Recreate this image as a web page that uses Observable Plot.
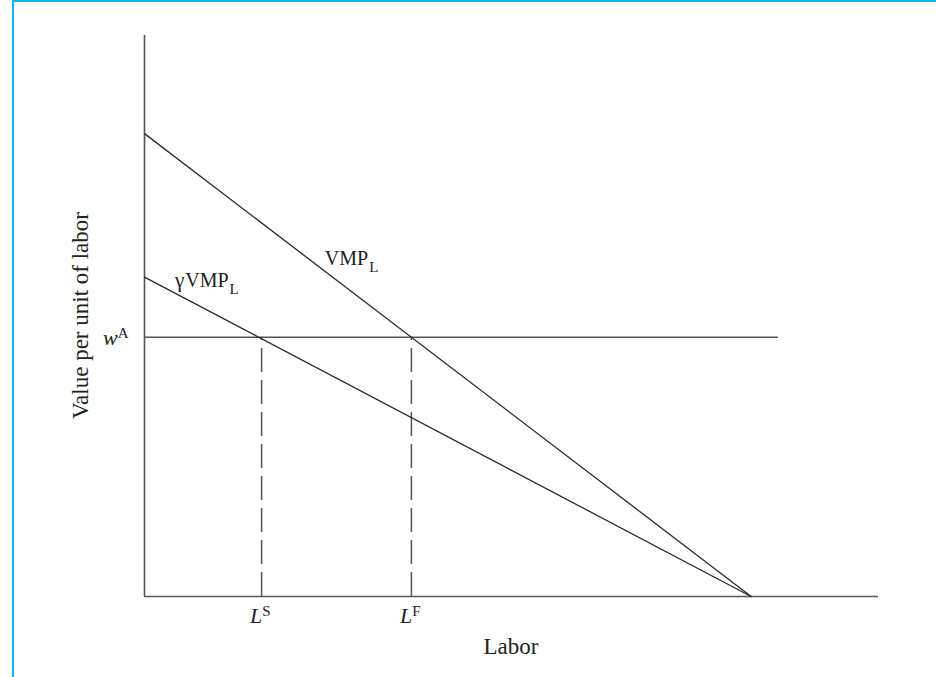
<!DOCTYPE html>
<html>
<head>
<meta charset="utf-8">
<script src="https://cdn.jsdelivr.net/npm/d3@7"></script>
<script src="https://cdn.jsdelivr.net/npm/@observablehq/plot@0.6"></script>
<style>
  html, body { margin: 0; padding: 0; background: #fff; }
  #frame { position: relative; width: 936px; height: 677px; overflow: hidden; }
  #border { position: absolute; left: 12px; top: 0; right: 0; bottom: 0;
            border-top: 2px solid #12b4ee; border-left: 2px solid #12b4ee; pointer-events: none; }
  #chart { position: absolute; left: 0; top: 0; }
</style>
</head>
<body>
<div id="frame"><div id="chart"></div><div id="border"></div></div>
<script>
// ---- data ----
const laborDomain = [0, 121];
const valueDomain = [0, 121.2];
const vmpLabor = [0, 100];
const vmpValue = [100, 0];
const gammaVmpLabor = [0, 100];
const gammaVmpValue = [69, 0];
const wageA = 56;
const wageLineLabor = [0, 104.5];
const dashedLabor = [19.3, 44];          // L^S, L^F
const dashedSup = ["S", "F"];
const xAxisLabel = "Labor";
const yAxisLabel = "Value per unit of labor";

const vmp = vmpLabor.map((l, i) => ({labor: l, value: vmpValue[i]}));
const gvmp = gammaVmpLabor.map((l, i) => ({labor: l, value: gammaVmpValue[i]}));
const ticks = dashedLabor.map((l, i) => ({labor: l, sup: dashedSup[i]}));

const ink = "#2a2a2a";
const axisInk = "#555";

const plot = Plot.plot({
  width: 936,
  height: 677,
  marginLeft: 144,
  marginRight: 58,
  marginTop: 35,
  marginBottom: 81,
  x: {domain: laborDomain, axis: null},
  y: {domain: valueDomain, axis: null},
  marks: [
    Plot.ruleX([0], {y1: valueDomain[0], y2: valueDomain[1], stroke: axisInk, strokeWidth: 1.6}),
    Plot.ruleY([0], {x1: laborDomain[0], x2: laborDomain[1], stroke: axisInk, strokeWidth: 1.6}),
    Plot.ruleY([wageA], {x1: wageLineLabor[0], x2: wageLineLabor[1], stroke: axisInk, strokeWidth: 1.5}),
    Plot.ruleX(ticks, {x: "labor", y1: 0, y2: wageA, stroke: axisInk, strokeWidth: 1.5, strokeDasharray: "24 8"}),
    Plot.line(vmp, {x: "labor", y: "value", stroke: ink, strokeWidth: 1.3}),
    Plot.line(gvmp, {x: "labor", y: "value", stroke: ink, strokeWidth: 1.3})
  ]
});
document.getElementById("chart").appendChild(plot);

const sx = plot.scale("x"), sy = plot.scale("y");
const svg = d3.select(plot);
const font = "'Liberation Serif', 'Times New Roman', serif";

function rich(x, y, parts, opts = {}) {
  const t = svg.append("text")
    .attr("x", x).attr("y", y)
    .attr("font-family", font)
    .attr("font-size", opts.size || 20)
    .attr("fill", "#222")
    .attr("text-anchor", opts.anchor || "start");
  if (opts.rotate) t.attr("transform", `rotate(${opts.rotate},${x},${y})`);
  for (const p of parts) {
    const s = t.append("tspan").text(p.text);
    if (p.italic) s.attr("font-style", "italic");
    if (p.size) s.attr("font-size", p.size);
    if (p.dy) s.attr("dy", p.dy);
    if (p.dx) s.attr("dx", p.dx);
  }
  return t;
}

// curve labels
rich(sx.apply(29.8), sy.apply(71.5), [
  {text: "VMP"}, {text: "L", size: 15, dy: 7, dx: 1}
]);
rich(sx.apply(5.1), sy.apply(66.7), [
  {text: "γ", size: 21}, {text: "VMP", dx: 1}, {text: "L", size: 15, dy: 7, dx: 1}
]);
// wage label
rich(sx.apply(0) - 41, sy.apply(wageA) + 8, [
  {text: "w", italic: true, size: 22}, {text: "A", size: 15, dy: -7}
]);
// tick labels L^S, L^F
for (const d of ticks) {
  rich(sx.apply(d.labor) - 11, sy.apply(0) + 27, [
    {text: "L", italic: true, size: 22}, {text: d.sup, size: 15, dy: -7}
  ]);
}
// axis labels
const xr = sx.range, yr = sy.range;
rich((xr[0] + xr[1]) / 2, sy.apply(0) + 58, [{text: xAxisLabel}], {size: 23, anchor: "middle"});
rich(sx.apply(0) - 56, (yr[0] + yr[1]) / 2, [{text: yAxisLabel}], {size: 23, anchor: "middle", rotate: -90});
</script>
</body>
</html>
